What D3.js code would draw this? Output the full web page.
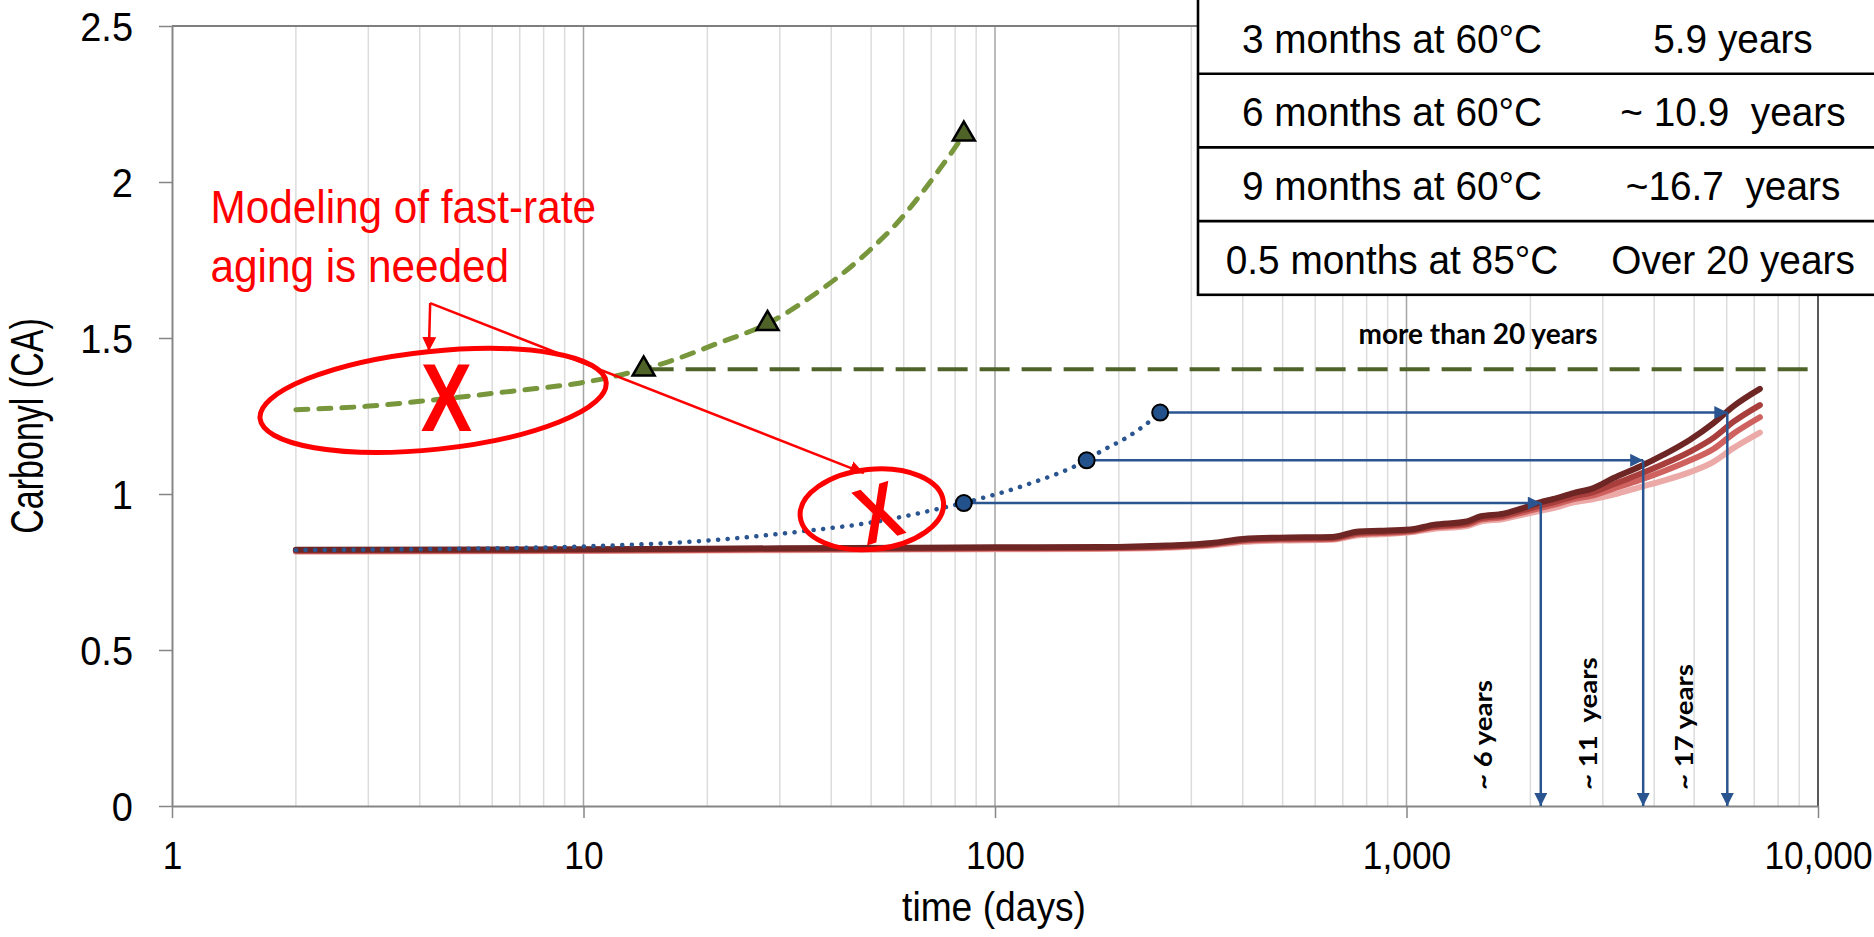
<!DOCTYPE html>
<html>
<head>
<meta charset="utf-8">
<script src="https://cdn.jsdelivr.net/npm/d3@7"></script>
<style>
  body { margin: 0; background: #fff; }
  svg { display: block; }
</style>
</head>
<body>
<svg id="chart"></svg>
<script>
// ---- data (days, carbonyl index) ----
// 85C model fit and the accelerated test points
const modelDays85 = [2, 2.96, 4.65, 5.97, 7.66, 9.83, 13.95, 16, 21.1, 28, 37.6, 43.6, 50.6, 57.7, 65.7, 73.5, 80.7, 84];
const modelCA85 = [1.27, 1.281, 1.306, 1.322, 1.338, 1.356, 1.40, 1.423, 1.482, 1.546, 1.653, 1.717, 1.792, 1.867, 1.957, 2.043, 2.118, 2.153];
const testDays85 = [14, 28, 84];
const testCA85 = [1.40, 1.546, 2.153];
const limitCA85 = 1.40;

// 60C model fit and the test points
const modelDays60 = [2, 3.2, 10, 22, 33.8, 51.8, 69.9, 83.5, 120, 166.6, 180, 209, 231, 252];
const modelCA60 = [0.82, 0.822, 0.832, 0.855, 0.88, 0.912, 0.947, 0.971, 1.031, 1.108, 1.135, 1.181, 1.22, 1.261];
const testDays60 = [84, 167, 252];
const testCA60 = [0.971, 1.108, 1.261];

// outdoor exposure curves (darkest to lightest)
const outdoorDays = [2, 10, 30, 100, 180, 262, 336, 400, 489, 659, 766, 862, 1020, 1161, 1400, 1509, 1721, 1888, 2111, 2275, 2545, 2847, 3184, 3693, 4216, 4887, 5572, 6225, 7224];
const outdoorCA1 = [0.821, 0.823, 0.826, 0.829, 0.83, 0.835, 0.843, 0.856, 0.86, 0.862, 0.88, 0.882, 0.886, 0.901, 0.912, 0.928, 0.937, 0.952, 0.973, 0.984, 1.003, 1.019, 1.051, 1.088, 1.126, 1.174, 1.227, 1.281, 1.337];
const outdoorCA2 = [0.819, 0.821, 0.824, 0.827, 0.828, 0.832, 0.84, 0.852, 0.857, 0.859, 0.876, 0.878, 0.883, 0.896, 0.906, 0.922, 0.931, 0.945, 0.963, 0.973, 0.992, 1.006, 1.031, 1.064, 1.096, 1.136, 1.18, 1.231, 1.285];
const outdoorCA3 = [0.817, 0.819, 0.822, 0.825, 0.826, 0.83, 0.838, 0.85, 0.854, 0.856, 0.872, 0.875, 0.88, 0.893, 0.902, 0.917, 0.926, 0.939, 0.955, 0.965, 0.984, 0.996, 1.017, 1.045, 1.073, 1.108, 1.144, 1.193, 1.246];
const outdoorCA4 = [0.815, 0.817, 0.82, 0.823, 0.824, 0.828, 0.835, 0.846, 0.851, 0.853, 0.868, 0.871, 0.877, 0.888, 0.897, 0.911, 0.92, 0.932, 0.946, 0.955, 0.973, 0.984, 0.998, 1.022, 1.043, 1.07, 1.103, 1.147, 1.197];

// equivalent outdoor time for each 60C point
const equivDays = [2120, 3760, 6020];
const equivLabels = ['~ 6 years', '~ 11  years', '~ 17 years'];
const equivLabelDays = [1610, 2910, 4960];

// axis ticks
const xTicks = [1, 10, 100, 1000, 10000];
const yTicks = [0, 0.5, 1, 1.5, 2, 2.5];

// table in the corner
const tableConditions = ['3 months at 60°C', '6 months at 60°C', '9 months at 60°C', '0.5 months at 85°C'];
const tableLifetimes = ['5.9 years', '~ 10.9  years', '~16.7  years', 'Over 20 years'];

// ---- layout ----
const width = 1874;
const height = 937;
const SANS = "'Liberation Sans', Arial, sans-serif";
const BOLD = "Lato, 'Open Sans', sans-serif";

const svg = d3.select('#chart')
  .attr('width', width)
  .attr('height', height);

const x = d3.scaleLog().domain([1, 10000]).range([172, 1818]);
const y = d3.scaleLinear().domain([0, 2.5]).range([806, 26]);

const zip = (a, b) => a.map((d, i) => [d, b[i]]);
const line = d3.line()
  .x(d => x(d[0]))
  .y(d => y(d[1]))
  .curve(d3.curveMonotoneX);

// text with optional horizontal squeeze / rotation
function addText(parent, px, py, str, o) {
  return parent.append('text')
    .attr('transform', `translate(${px},${py}) rotate(${o.rotate || 0}) scale(${o.sx || 1},1)`)
    .attr('text-anchor', o.anchor || 'start')
    .attr('font-family', o.family || SANS)
    .attr('font-size', o.size)
    .attr('font-weight', o.weight || 'normal')
    .attr('fill', o.fill || '#000')
    .attr('xml:space', 'preserve')
    .text(str);
}

// arrow heads
const defs = svg.append('defs');
function arrowMarker(id, color, len, wid) {
  defs.append('marker')
    .attr('id', id)
    .attr('markerUnits', 'userSpaceOnUse')
    .attr('viewBox', '0 0 10 10')
    .attr('refX', 10).attr('refY', 5)
    .attr('markerWidth', len).attr('markerHeight', wid)
    .attr('orient', 'auto')
    .append('path')
    .attr('d', 'M0,0L10,5L0,10Z')
    .attr('fill', color);
}
arrowMarker('blueHead', '#2A5590', 16, 13);
arrowMarker('redHead', '#FF0000', 14, 15);

// ---- grid ----
const minorTicks = [];
for (let dec = 1; dec < 10000; dec *= 10) {
  for (let k = 2; k <= 9; k++) minorTicks.push(dec * k);
}
svg.append('g')
  .selectAll('line')
  .data(minorTicks)
  .join('line')
  .attr('x1', d => x(d)).attr('x2', d => x(d))
  .attr('y1', y(0)).attr('y2', y(2.5))
  .attr('stroke', '#DCDCDC')
  .attr('stroke-width', 1.5);

svg.append('g')
  .selectAll('line')
  .data([10, 100, 1000])
  .join('line')
  .attr('x1', d => x(d)).attr('x2', d => x(d))
  .attr('y1', y(0)).attr('y2', y(2.5))
  .attr('stroke', '#A5A5A5')
  .attr('stroke-width', 1.5);

// plot border (top + right)
svg.append('line')
  .attr('x1', x(1)).attr('x2', x(10000))
  .attr('y1', y(2.5)).attr('y2', y(2.5))
  .attr('stroke', '#7F7F7F').attr('stroke-width', 2);
svg.append('line')
  .attr('x1', x(10000)).attr('x2', x(10000))
  .attr('y1', y(2.5)).attr('y2', y(0))
  .attr('stroke', '#595959').attr('stroke-width', 2);

// ---- axes ----
const yAxis = svg.append('g')
  .attr('transform', `translate(${x(1)},0)`)
  .call(d3.axisLeft(y).tickValues(yTicks).tickSize(13).tickSizeOuter(0).tickFormat(d => String(d)));
yAxis.select('.domain').attr('stroke', '#868686').attr('stroke-width', 2);
yAxis.selectAll('.tick line').attr('stroke', '#868686').attr('stroke-width', 1.5);
yAxis.selectAll('.tick text')
  .attr('font-family', SANS)
  .attr('font-size', 40)
  .attr('fill', '#000')
  .attr('transform', 'scale(0.95,1)')
  .attr('x', -39 / 0.95)
  .attr('dy', '0.36em');

const xAxis = svg.append('g')
  .attr('transform', `translate(0,${y(0)})`)
  .call(d3.axisBottom(x).tickValues(xTicks).tickSize(12).tickSizeOuter(0).tickFormat(d3.format(',')));
xAxis.select('.domain').attr('stroke', '#868686').attr('stroke-width', 2);
xAxis.selectAll('.tick line').attr('stroke', '#868686').attr('stroke-width', 1.5);
xAxis.selectAll('.tick text')
  .attr('font-family', SANS)
  .attr('font-size', 38)
  .attr('fill', '#000')
  .attr('transform', 'scale(0.93,1)')
  .attr('y', 63)
  .attr('dy', 0);

// axis titles
addText(svg, 994, 921, 'time (days)', { size: 40, sx: 0.93, anchor: 'middle' });
addText(svg, 43, 426, 'Carbonyl (CA)', { size: 46, sx: 0.74, anchor: 'middle', rotate: -90 });

// ---- outdoor curves ----
const outdoorSeries = [
  { ca: outdoorCA4, color: '#EBA9A7' },
  { ca: outdoorCA3, color: '#CF625F' },
  { ca: outdoorCA2, color: '#A83F3C' },
  { ca: outdoorCA1, color: '#6E2624' }
];
svg.append('g')
  .selectAll('path')
  .data(outdoorSeries)
  .join('path')
  .attr('d', s => line(zip(outdoorDays, s.ca)))
  .attr('fill', 'none')
  .attr('stroke', s => s.color)
  .attr('stroke-width', 6)
  .attr('stroke-linecap', 'round');

// ---- 60C model (dotted) ----
svg.append('path')
  .attr('d', line(zip(modelDays60, modelCA60)))
  .attr('fill', 'none')
  .attr('stroke', '#2A5590')
  .attr('stroke-width', 4.5)
  .attr('stroke-linecap', 'round')
  .attr('stroke-dasharray', '0.1 9.5');

// ---- 85C model (dashed) and limit line ----
svg.append('path')
  .attr('d', line(zip(modelDays85, modelCA85)))
  .attr('fill', 'none')
  .attr('stroke', '#78963C')
  .attr('stroke-width', 5)
  .attr('stroke-linecap', 'round')
  .attr('stroke-dasharray', '12 11');

svg.append('line')
  .attr('x1', x(testDays85[0])).attr('x2', x(10000))
  .attr('y1', y(limitCA85)).attr('y2', y(limitCA85))
  .attr('stroke', '#4F6228')
  .attr('stroke-width', 4)
  .attr('stroke-dasharray', '30 12');

addText(svg, 1478, 344, 'more than 20 years', { size: 28, anchor: 'middle', family: BOLD, weight: 'bold' });

// ---- equivalence arrows ----
const arrows = svg.append('g');
testDays60.forEach((d, i) => {
  arrows.append('line')
    .attr('x1', x(d) + 8).attr('x2', x(equivDays[i]))
    .attr('y1', y(testCA60[i])).attr('y2', y(testCA60[i]))
    .attr('stroke', '#2A5590').attr('stroke-width', 2.5)
    .attr('marker-end', 'url(#blueHead)');
  arrows.append('line')
    .attr('x1', x(equivDays[i])).attr('x2', x(equivDays[i]))
    .attr('y1', y(testCA60[i])).attr('y2', y(0))
    .attr('stroke', '#2A5590').attr('stroke-width', 2.5)
    .attr('marker-end', 'url(#blueHead)');
  addText(svg, x(equivLabelDays[i]), 790, equivLabels[i], { size: 24, sx: 1.15, rotate: -90, family: BOLD, weight: 'bold' });
});

// ---- markers ----
svg.append('g')
  .selectAll('circle')
  .data(zip(testDays60, testCA60))
  .join('circle')
  .attr('cx', d => x(d[0]))
  .attr('cy', d => y(d[1]))
  .attr('r', 8)
  .attr('fill', '#23518C')
  .attr('stroke', '#000')
  .attr('stroke-width', 2);

svg.append('g')
  .selectAll('path')
  .data(zip(testDays85, testCA85))
  .join('path')
  .attr('transform', d => `translate(${x(d[0])},${y(d[1])})`)
  .attr('d', d3.symbol(d3.symbolTriangle, 210))
  .attr('fill', '#4F6228')
  .attr('stroke', '#000')
  .attr('stroke-width', 2.5);

// ---- red annotation ----
const red = svg.append('g');
addText(red, x(1.24), y(1.867), 'Modeling of fast-rate', { size: 47, sx: 0.9, fill: '#FF0000' });
addText(red, x(1.24), y(1.679), 'aging is needed', { size: 47, sx: 0.9, fill: '#FF0000' });

red.append('ellipse')
  .attr('transform', `translate(${x(4.31)},${y(1.30)}) rotate(-6)`)
  .attr('rx', 174).attr('ry', 49)
  .attr('fill', 'none').attr('stroke', '#FF0000').attr('stroke-width', 5);
red.append('ellipse')
  .attr('transform', `translate(${x(50.2)},${y(0.951)}) rotate(-6)`)
  .attr('rx', 72).attr('ry', 40)
  .attr('fill', 'none').attr('stroke', '#FF0000').attr('stroke-width', 5);

addText(red, x(4.64), y(1.3115) + 34, 'X', { size: 96, sx: 0.8, anchor: 'middle', weight: 'bold', fill: '#FF0000' });
red.append('text')
  .attr('transform', `translate(${x(51.9)},${y(0.943)}) rotate(-18) scale(0.8,1)`)
  .attr('text-anchor', 'middle')
  .attr('dy', '0.36em')
  .attr('font-family', SANS)
  .attr('font-size', 80)
  .attr('font-weight', 'bold')
  .attr('fill', '#FF0000')
  .text('X');

const apex = [x(4.24), y(1.612)];
red.append('line')
  .attr('x1', apex[0]).attr('y1', apex[1])
  .attr('x2', x(4.21)).attr('y2', y(1.458))
  .attr('stroke', '#FF0000').attr('stroke-width', 2.5)
  .attr('marker-end', 'url(#redHead)');
red.append('line')
  .attr('x1', apex[0]).attr('y1', apex[1])
  .attr('x2', x(48)).attr('y2', y(1.067))
  .attr('stroke', '#FF0000').attr('stroke-width', 2.5)
  .attr('marker-end', 'url(#redHead)');

// ---- table ----
const rowH = 73.7;
const table = svg.append('g').attr('transform', 'translate(1198,-2)');
table.append('rect')
  .attr('width', 700).attr('height', rowH * 4 + 2)
  .attr('fill', '#fff').attr('stroke', '#000').attr('stroke-width', 2.6);
table.selectAll('line.sep')
  .data([1, 2, 3])
  .join('line')
  .attr('class', 'sep')
  .attr('x1', 0).attr('x2', 700)
  .attr('y1', i => i * rowH + 2).attr('y2', i => i * rowH + 2)
  .attr('stroke', '#000').attr('stroke-width', 2.6);
tableConditions.forEach((c, i) => {
  addText(table, 194, 54.5 + i * rowH, c, { size: 40, sx: 0.97, anchor: 'middle' });
  addText(table, 535, 54.5 + i * rowH, tableLifetimes[i], { size: 40, sx: 0.97, anchor: 'middle' });
});
</script>
</body>
</html>
